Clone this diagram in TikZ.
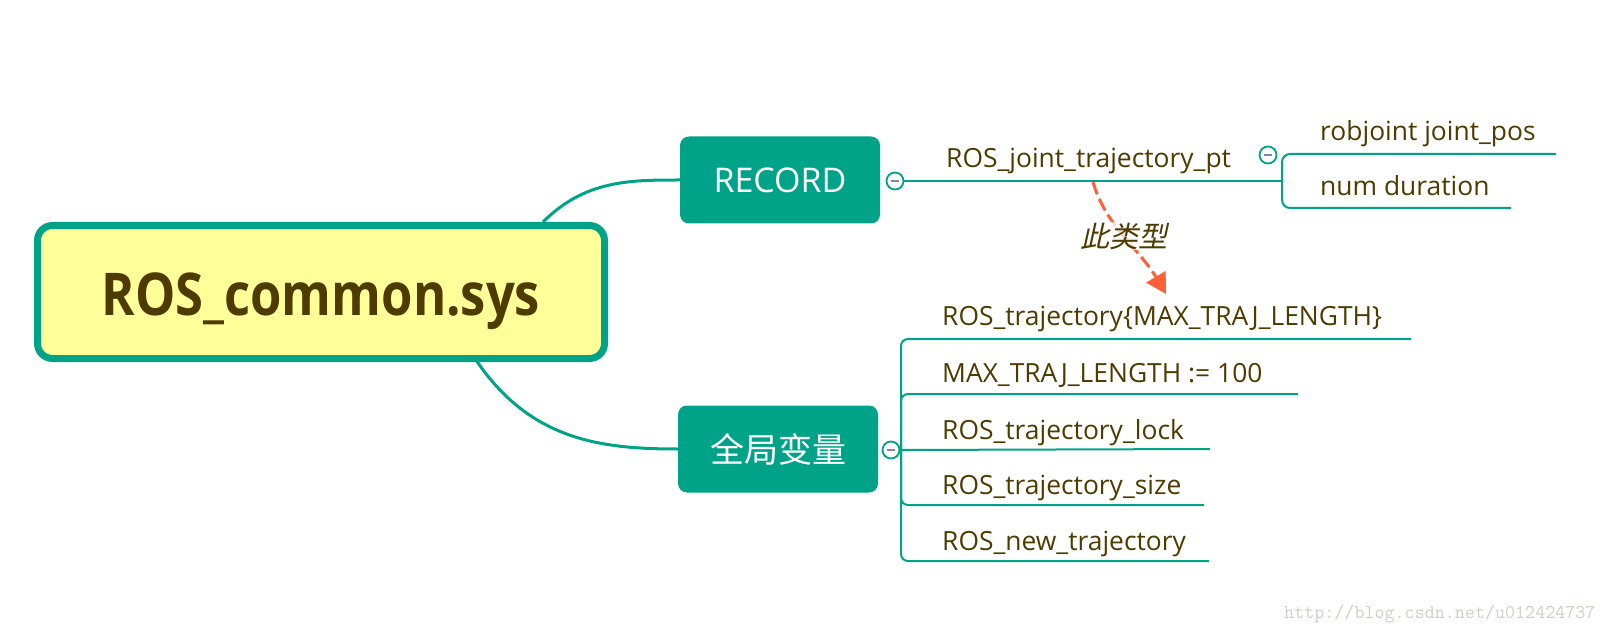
\documentclass[tikz,border=0pt]{standalone}
\usepackage{fontspec}
\setmainfont{Open Sans}
\newfontfamily\titlefont[FakeStretch=0.86]{Open Sans}
\newfontfamily\cjk{Noto Sans CJK SC}
\newfontfamily\cjkit[FakeSlant=0.22]{Noto Sans CJK SC}
\usetikzlibrary{arrows.meta}
\definecolor{mgreen}{RGB}{0,163,136}
\definecolor{mbrown}{RGB}{77,59,0}
\definecolor{myellow}{RGB}{255,255,153}
\definecolor{morange}{RGB}{255,96,56}
\definecolor{mminus}{RGB}{130,130,180}
\definecolor{wmark}{RGB}{210,206,198}
\tikzset{
  rootbox/.style={draw=mgreen, line width=7pt, fill=myellow, rounded corners=15pt,
    minimum width=567pt, minimum height=133pt, text=mbrown, text height=56pt, text depth=10pt,
    font=\titlefont\fontsize{59}{59}\selectfont\bfseries},
  topicbox/.style={fill=mgreen, rounded corners=9pt, minimum width=200pt, minimum height=87pt,
    text=white, font=\fontsize{34}{34}\selectfont},
  leaf/.style={anchor=base west, inner sep=0pt, text=mbrown, font=\fontsize{26.4}{26.4}\selectfont},
  conn/.style={draw=mgreen, line width=2pt},
  thick conn/.style={draw=mgreen, line width=3pt},
  collapse/.style={circle, draw=mgreen, line width=1.8pt, fill=white, minimum size=17pt, inner sep=0pt,
    path picture={\draw[mminus, line width=2pt] ([xshift=-4pt]path picture bounding box.center) -- ([xshift=4pt]path picture bounding box.center);}},
}
\begin{document}
\begin{tikzpicture}[x=1pt,y=-1pt]
\useasboundingbox (0,0) rectangle (1605,636);

% curves from root
\draw[thick conn] (543,222) .. controls (585,180) and (630,180) .. (680,180);
\draw[thick conn] (476,360) .. controls (530,440) and (600,449) .. (678,449);

\node[rootbox] (root) at (321,292) {ROS\_common.sys};
\node[topicbox] (record) at (780,180) {RECORD};
\node[topicbox] (global) at (778,449) {\cjk 全局变量};

% RECORD branch
\node[collapse] (c1) at (895,181) {};
\coordinate (b1) at (1282,181);
\draw[conn] (c1.east) -- (b1);
\node[leaf] (jtp) at (946,168) {ROS\_joint\_trajectory\_pt};
\node[collapse] (c2) at (1268,155) {};
\node[leaf] (rj) at (1320,141) {robjoint joint\_pos};
\node[leaf] (nd) at (1320,196) {num duration};
\draw[conn, rounded corners=8pt] (b1) |- (1300,154) -- (1556,154);
\draw[conn, rounded corners=8pt] (b1) |- (1300,208) -- (1511,208);

% global branch
\node[collapse] (c3) at (891,450) {};
\coordinate (b2) at (901,449);
\node[leaf] (g1) at (942,325) {ROS\_trajectory\{MAX\_TRAJ\_LENGTH\}};
\node[leaf] (g2) at (942,382) {MAX\_TRAJ\_LENGTH := 100};
\node[leaf] (g3) at (942,439) {ROS\_trajectory\_lock};
\node[leaf] (g4) at (942,494) {ROS\_trajectory\_size};
\node[leaf] (g5) at (942,550) {ROS\_new\_trajectory};
\draw[conn, rounded corners=7pt] (b2) |- (920,339) -- (1411,339);
\draw[conn, rounded corners=7pt] (b2) |- (920,394) -- (1298,394);
\draw[conn] (c3.east) -- (1210,449);
\draw[conn, rounded corners=7pt] (b2) |- (920,505) -- (1204,505);
\draw[conn, rounded corners=7pt] (b2) |- (920,561) -- (1209,561);

% dashed relation
\coordinate (rs) at (1093,182);
\coordinate (re) at (1166,294);
\draw[morange, line width=3pt, dash pattern=on 13pt off 5pt, -{Triangle[width=22pt,length=20pt]}]
  (rs) .. controls (1105,225) and (1140,250) .. (re);
\node[text=mbrown, fill=white, fill opacity=0.75, text opacity=1, inner sep=1pt, font=\fontsize{29}{29}\selectfont\cjkit] (lbl) at (1124,236) {此类型};

% watermark
\node[text=wmark, font=\fontsize{19.5}{19.5}\selectfont\ttfamily, anchor=west, inner sep=0pt] (wm) at (1284,614) {http://blog.csdn.net/u012424737};
\end{tikzpicture}
\end{document}
